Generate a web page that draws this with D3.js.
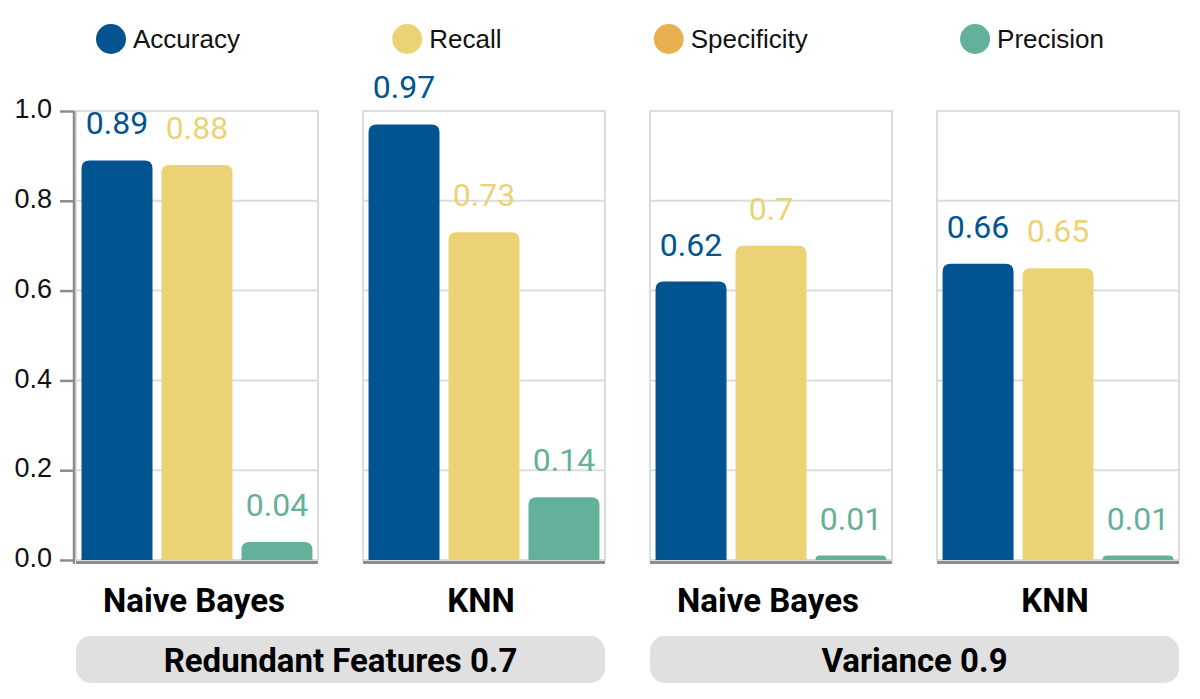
<!DOCTYPE html>
<html>
<head>
<meta charset="utf-8">
<script src="https://cdn.jsdelivr.net/npm/d3@7"></script>
<style>
  html, body { margin: 0; padding: 0; background: #fff; }
  svg { display: block; font-family: Roboto, "Noto Sans", sans-serif; }
</style>
</head>
<body>
<svg id="chart" width="1200" height="699"></svg>
<script>
// ---- data ----
const groups = ["Redundant Features 0.7", "Variance 0.9"];
const models = ["Naive Bayes", "KNN"];
const seriesNames = ["Accuracy", "Recall", "Specificity", "Precision"];
const seriesColors = ["#01548f", "#ebd375", "#e9b04f", "#64b19b"];
// one value per panel: [RF0.7 NB, RF0.7 KNN, Var0.9 NB, Var0.9 KNN]
const accuracy    = [0.89, 0.97, 0.62, 0.66];
const recall      = [0.88, 0.73, 0.70, 0.65];
const specificity = [null, null, null, null];
const precision   = [0.04, 0.14, 0.01, 0.01];
const yTicks = [0, 0.2, 0.4, 0.6, 0.8, 1.0];
const yTickLabels = ["0.0", "0.2", "0.4", "0.6", "0.8", "1.0"];

const seriesValues = [accuracy, recall, specificity, precision];
const panels = [];
groups.forEach((g, gi) => models.forEach((m, mi) => panels.push({ group: g, model: m, idx: gi * models.length + mi })));

const svg = d3.select("#chart");
const sansFont = '"Liberation Sans", Arial, sans-serif';

// ---- scales ----
const y = d3.scaleLinear().domain([0, 1]).range([560, 111]);
const xPanel = d3.scaleBand().domain(panels.map(p => p.idx)).range([76, 1179]).paddingInner(0.157).paddingOuter(0);
const pw = xPanel.bandwidth();
const present = seriesNames.filter((s, i) => seriesValues[i].some(v => v != null));
const xSeries = d3.scaleBand().domain(present).range([0, pw]).paddingInner(0.1125).paddingOuter(0.069);
const color = d3.scaleOrdinal().domain(seriesNames).range(seriesColors);

function topRounded(x, yTop, w, h, r) {
  r = Math.min(r, h, w / 2);
  const b = yTop + h;
  return `M${x},${b}V${yTop + r}Q${x},${yTop} ${x + r},${yTop}H${x + w - r}Q${x + w},${yTop} ${x + w},${yTop + r}V${b}Z`;
}

// ---- panels ----
panels.forEach(p => {
  const g = svg.append("g").attr("transform", `translate(${xPanel(p.idx)},0)`);
  g.selectAll("line.grid").data(yTicks.filter(t => t > 0 && t < 1)).join("line")
    .attr("x1", 0).attr("x2", pw).attr("y1", d => y(d)).attr("y2", d => y(d))
    .attr("stroke", "#dcdcdc").attr("stroke-width", 2);
  g.append("rect").attr("x", 0).attr("y", y(1)).attr("width", pw).attr("height", y(0) - y(1))
    .attr("fill", "none").attr("stroke", "#dcdcdc").attr("stroke-width", 2);
  seriesNames.forEach((s, si) => {
    const v = seriesValues[si][p.idx];
    if (v == null) return;
    const bx = xSeries(s), bw = xSeries.bandwidth();
    g.append("path").attr("d", topRounded(bx, y(v), bw, y(0) - y(v), 8)).attr("fill", color(s));
    g.append("text").attr("x", bx + bw / 2).attr("y", y(v) - 26)
      .attr("text-anchor", "middle").attr("font-size", 32).attr("fill", color(s))
      .text(String(v));
  });
  g.append("line").attr("x1", 0).attr("x2", pw).attr("y1", y(0) + 2.5).attr("y2", y(0) + 2.5)
    .attr("stroke", "#8c8c8c").attr("stroke-width", 3);
  g.append("text").attr("x", pw / 2 - 3).attr("y", 612).attr("text-anchor", "middle")
    .attr("font-size", 33).attr("font-weight", 700).attr("fill", "#000").text(p.model);
});

// ---- group boxes ----
groups.forEach((gname, gi) => {
  const first = gi * models.length, last = first + models.length - 1;
  const x0 = xPanel(first), x1 = xPanel(last) + pw;
  svg.append("rect").attr("x", x0).attr("y", 636).attr("width", x1 - x0).attr("height", 47)
    .attr("rx", 15).attr("fill", "#e0e0e0");
  svg.append("text").attr("x", (x0 + x1) / 2).attr("y", 672).attr("text-anchor", "middle")
    .attr("font-size", 33).attr("font-weight", 700).attr("fill", "#000").text(gname);
});

// ---- y axis ----
const yAxis = d3.axisLeft(y).tickValues(yTicks).tickFormat((d, i) => yTickLabels[i]).tickSize(14).tickPadding(8).tickSizeOuter(0);
const ag = svg.append("g").attr("transform", "translate(74,0)").call(yAxis);
ag.select(".domain").attr("stroke", "#8c8c8c").attr("stroke-width", 2.5)
  .attr("d", `M0,${y(1)}V${y(0) + 4}`);
ag.selectAll(".tick line").attr("stroke", "#8c8c8c").attr("stroke-width", 2.5);
ag.selectAll(".tick text").attr("font-size", 27).attr("fill", "#111").attr("font-family", sansFont).attr("dy", "0.25em");

// ---- legend ----
const leg = svg.append("g");
const items = seriesNames.map((s, i) => {
  const it = leg.append("g");
  it.append("circle").attr("cx", 15).attr("cy", 39).attr("r", 15).attr("fill", seriesColors[i]);
  const t = it.append("text").attr("x", 37).attr("y", 48).attr("font-size", 26)
    .attr("font-family", sansFont).attr("fill", "#111").text(s);
  return { g: it, w: 37 + t.node().getComputedTextLength() };
});
const L0 = 96, L1 = 1104;
const total = d3.sum(items, d => d.w);
const gap = (L1 - L0 - total) / (items.length - 1);
let cx = L0;
items.forEach(it => { it.g.attr("transform", `translate(${cx},0)`); cx += it.w + gap; });
</script>
</body>
</html>
